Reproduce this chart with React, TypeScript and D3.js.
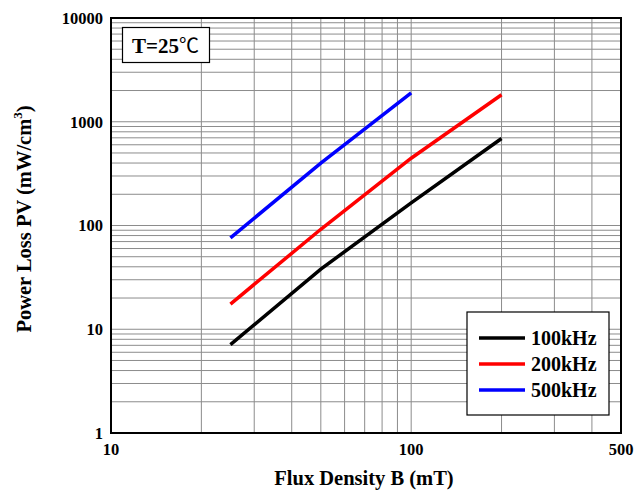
import React from "react";
import * as d3 from "d3";

const fluxB = [25, 50, 100, 200];
const series100k = [7.1, 38, 165, 690];
const series200k = [17.5, 92, 445, 1820];
const flux500 = [25, 50, 100];
const series500k = [76, 400, 1900];
const seriesNames = ["100kHz", "200kHz", "500kHz"];
const seriesColors = ["#000000", "#ff0000", "#0000ff"];
const xTickLabels = [10, 100, 500];
const yTickLabels = [1, 10, 100, 1000, 10000];

const W = 634, H = 496;
const M = { left: 111, right: 621, top: 18, bottom: 433 };
const FONT = "'Times New Roman', 'Liberation Serif', serif";

export default function App() {
  const x = d3.scaleLog().domain([10, 500]).range([M.left, M.right]);
  const y = d3.scaleLog().domain([1, 10000]).range([M.bottom, M.top]);

  const xGrid: number[] = [];
  for (let d = 10; d <= 100; d *= 10) for (let k = 1; k <= 9; k++) { const v = d * k; if (v > 10 && v < 500) xGrid.push(v); }
  const yGrid: number[] = [];
  for (let d = 1; d < 10000; d *= 10) for (let k = 1; k <= 9; k++) { const v = d * k; if (v > 1 && v < 10000) yGrid.push(v); }

  const line = d3.line<[number, number]>().x(d => x(d[0])).y(d => y(d[1]));
  const data: [number, number][][] = [
    fluxB.map((b, i) => [b, series100k[i]]),
    fluxB.map((b, i) => [b, series200k[i]]),
    flux500.map((b, i) => [b, series500k[i]]),
  ];

  return (
    <svg width={W} height={H} style={{ position: "absolute", left: 0, top: 0 }} fontFamily={FONT}>
      <rect width={W} height={H} fill="#fff" />
      {xGrid.map(v => (
        <line key={"xg" + v} x1={x(v)} x2={x(v)} y1={M.top} y2={M.bottom} stroke="#8c8c8c" strokeWidth={1} />
      ))}
      {yGrid.map(v => (
        <line key={"yg" + v} x1={M.left} x2={M.right} y1={y(v)} y2={y(v)} stroke="#8c8c8c" strokeWidth={1} />
      ))}
      {data.map((d, i) => (
        <path key={"s" + i} d={line(d) || ""} fill="none" stroke={seriesColors[i]} strokeWidth={3.5} />
      ))}
      <rect x={M.left} y={M.top} width={M.right - M.left} height={M.bottom - M.top} fill="none" stroke="#000" strokeWidth={2} />
      {yTickLabels.map(v => (
        <text key={"yt" + v} x={M.left - 8} y={y(v)} dy="0.35em" textAnchor="end" fontSize={16.5} fontWeight="bold">{v}</text>
      ))}
      {xTickLabels.map(v => (
        <text key={"xt" + v} x={x(v)} y={455} textAnchor="middle" fontSize={16.5} fontWeight="bold">{v}</text>
      ))}
      <text x={364} y={485} textAnchor="middle" fontSize={20.5} fontWeight="bold">Flux Density B (mT)</text>
      <text transform={`translate(31,${219}) rotate(-90)`} textAnchor="middle" fontSize={20.5} fontWeight="bold">
        Power Loss PV (mW/cm<tspan dy={-9} fontSize={13}>3</tspan><tspan dy={9}>)</tspan>
      </text>
      <rect x={122.5} y={27.5} width={87} height={35} fill="#fff" stroke="#000" strokeWidth={1.2} />
      <text x={132} y={53} fontSize={21} fontWeight="bold">T=25<tspan fontFamily="'Noto Sans CJK SC', serif" fontWeight="normal" fontSize={20}>℃</tspan></text>
      <rect x={467} y={312} width={142} height={103} fill="#fff" stroke="#000" strokeWidth={1.2} />
      {seriesNames.map((n, i) => (
        <g key={"lg" + i}>
          <line x1={479} x2={525} y1={338 + i * 26} y2={338 + i * 26} stroke={seriesColors[i]} strokeWidth={3.5} />
          <text x={531} y={338 + i * 26} dy="0.35em" fontSize={20} fontWeight="bold">{n}</text>
        </g>
      ))}
    </svg>
  );
}
